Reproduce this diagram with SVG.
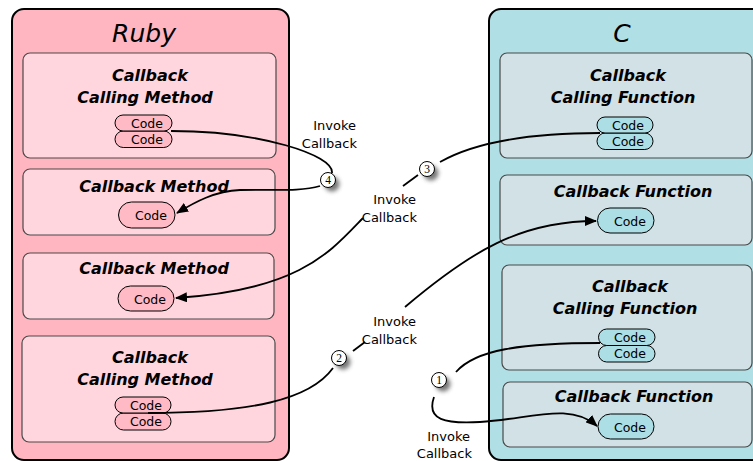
<svg xmlns="http://www.w3.org/2000/svg" width="753" height="461" viewBox="0 0 753 461">
  <defs>
    <marker id="arrow" viewBox="0 0 12 10" refX="11" refY="5" markerWidth="12" markerHeight="10" markerUnits="userSpaceOnUse" orient="auto">
      <path d="M0,0 L12,5 L0,10 Z" fill="#000"/>
    </marker>
    <filter id="soft" x="-1" y="-1" width="3" height="3">
      <feGaussianBlur stdDeviation="2"/>
    </filter>
    <style>
      .outer { stroke: #000; stroke-width: 2; }
      .ruby-outer { fill: #ffb6c1; }
      .c-outer { fill: #b0dfe5; }
      .inner { stroke: #4a4a4a; stroke-width: 1.2; }
      .ruby-inner { fill: #ffd6de; }
      .c-inner { fill: #d2e1e6; }
      .pill { stroke: #000; stroke-width: 1; }
      .ruby-pill { fill: #ffbac6; }
      .c-pill { fill: #abdee5; }
      .lang { font-family: "DejaVu Sans", sans-serif; font-style: oblique; font-size: 25px; text-anchor: middle; fill: #000; }
      .title { font-family: "DejaVu Sans", sans-serif; font-style: oblique; font-weight: bold; font-size: 16px; text-anchor: middle; fill: #000; }
      .code { font-family: "DejaVu Sans", sans-serif; font-size: 12.5px; text-anchor: middle; fill: #000; }
      .label { font-family: "DejaVu Sans", sans-serif; font-size: 13px; text-anchor: end; fill: #000; }
      .wire { fill: none; stroke: #000; stroke-width: 1.8; }
      .badge { fill: #fff; stroke: #000; stroke-width: 1; }
      .shadow { fill: #555; opacity: 0.8; }
      .num { font-family: "Liberation Serif", serif; font-size: 11.5px; text-anchor: middle; fill: #000; }
    </style>
  </defs>

  <!-- Ruby side -->
  <g id="ruby">
    <rect class="outer ruby-outer" x="12" y="9" width="277" height="451" rx="12"/>
    <text class="lang" x="144" y="42">Ruby</text>
  </g>

  <g id="ruby-calling-1">
    <rect class="inner ruby-inner" x="23" y="53" width="253" height="105" rx="7"/>
    <text class="title" x="150" y="81">Callback</text>
    <text class="title" x="145" y="103">Calling Method</text>
    <rect class="pill ruby-pill" x="115" y="131" width="57" height="16.5" rx="8.25"/>
    <text class="code" x="147" y="144">Code</text>
    <rect class="pill ruby-pill" x="115" y="115" width="57" height="16" rx="8"/>
    <text class="code" x="147" y="128">Code</text>
  </g>

  <g id="ruby-callback-1">
    <rect class="inner ruby-inner" x="23" y="169" width="252" height="66" rx="7"/>
    <text class="title" x="154" y="192">Callback Method</text>
    <rect class="pill ruby-pill" x="118.5" y="202" width="56.5" height="26" rx="13"/>
    <text class="code" x="151" y="220">Code</text>
  </g>

  <g id="ruby-callback-2">
    <rect class="inner ruby-inner" x="23" y="253" width="251" height="66" rx="7"/>
    <text class="title" x="154" y="274">Callback Method</text>
    <rect class="pill ruby-pill" x="118" y="286" width="56" height="25" rx="12.5"/>
    <text class="code" x="150" y="304">Code</text>
  </g>

  <g id="ruby-calling-2">
    <rect class="inner ruby-inner" x="22" y="336" width="253" height="106" rx="7"/>
    <text class="title" x="150" y="363">Callback</text>
    <text class="title" x="145" y="385">Calling Method</text>
    <rect class="pill ruby-pill" x="115" y="413" width="56" height="17" rx="8.5"/>
    <text class="code" x="146" y="426">Code</text>
    <rect class="pill ruby-pill" x="115" y="397" width="56" height="16" rx="8"/>
    <text class="code" x="146" y="410">Code</text>
  </g>

  <!-- C side -->
  <g id="c">
    <rect class="outer c-outer" x="489" y="9" width="280" height="451" rx="12"/>
    <text class="lang" x="622" y="42">C</text>
  </g>

  <g id="c-calling-1">
    <rect class="inner c-inner" x="500" y="53" width="252" height="105" rx="7"/>
    <text class="title" x="628" y="81">Callback</text>
    <text class="title" x="623" y="103">Calling Function</text>
    <rect class="pill c-pill" x="597" y="133" width="56" height="16.5" rx="8.25"/>
    <text class="code" x="628" y="146">Code</text>
    <rect class="pill c-pill" x="597" y="117" width="56" height="16" rx="8"/>
    <text class="code" x="628" y="130">Code</text>
  </g>

  <g id="c-callback-1">
    <rect class="inner c-inner" x="500" y="175" width="252" height="70" rx="7"/>
    <text class="title" x="633" y="197">Callback Function</text>
    <rect class="pill c-pill" x="597.5" y="208" width="56.5" height="25" rx="12.5"/>
    <text class="code" x="630" y="226">Code</text>
  </g>

  <g id="c-calling-2">
    <rect class="inner c-inner" x="502" y="265" width="250" height="105" rx="7"/>
    <text class="title" x="630" y="292">Callback</text>
    <text class="title" x="625" y="314">Calling Function</text>
    <rect class="pill c-pill" x="598.5" y="345.5" width="56.5" height="16.5" rx="8.25"/>
    <text class="code" x="630" y="358">Code</text>
    <rect class="pill c-pill" x="598.5" y="329" width="56.5" height="16.5" rx="8.25"/>
    <text class="code" x="630" y="342">Code</text>
  </g>

  <g id="c-callback-2">
    <rect class="inner c-inner" x="503" y="382" width="249" height="65" rx="7"/>
    <text class="title" x="634" y="402">Callback Function</text>
    <rect class="pill c-pill" x="598" y="414" width="56" height="25" rx="12.5"/>
    <text class="code" x="630" y="432">Code</text>
  </g>

  <!-- Invocation connectors, split where badges and labels sit on them -->
  <g id="connectors">
    <!-- 1: C caller -> C callback -->
    <path class="wire" d="M600,343 C520,343 475,350 456,372"/>
    <path class="wire" d="M434,397 C426,420 445,424 480,422 C530,419 570,402 597,426" marker-end="url(#arrow)"/>
    <!-- 2: Ruby caller -> C callback -->
    <path class="wire" d="M148,413 C250,413 310,400 333,368"/>
    <path class="wire" d="M353,351 L365,342"/>
    <path class="wire" d="M405,307 C470,252 520,221 596,221" marker-end="url(#arrow)"/>
    <!-- 3: C caller -> Ruby callback -->
    <path class="wire" d="M600,133 C520,133 470,145 440,162"/>
    <path class="wire" d="M418,175 L403,186"/>
    <path class="wire" d="M363,218 C330,252 300,290 176,298" marker-end="url(#arrow)"/>
    <!-- 4: Ruby caller -> Ruby callback -->
    <path class="wire" d="M171,131 C260,131 334,155 332,173"/>
    <path class="wire" d="M320,186 C300,192 270,189 240,190 C215,191 195,202 177,213" marker-end="url(#arrow)"/>

    <g id="labels">
      <text class="label" x="356" y="130">Invoke</text>
      <text class="label" x="357" y="148">Callback</text>
      <text class="label" x="416" y="204">Invoke</text>
      <text class="label" x="417" y="222">Callback</text>
      <text class="label" x="416" y="326">Invoke</text>
      <text class="label" x="417" y="344">Callback</text>
      <text class="label" x="470" y="441">Invoke</text>
      <text class="label" x="472" y="458">Callback</text>
    </g>

    <g id="badges">
      <circle class="shadow" cx="443" cy="384" r="7.5" filter="url(#soft)"/>
      <circle class="badge" cx="439" cy="380" r="7.5"/>
      <text class="num" x="439" y="384">1</text>

      <circle class="shadow" cx="343" cy="362" r="7.5" filter="url(#soft)"/>
      <circle class="badge" cx="339" cy="358" r="7.5"/>
      <text class="num" x="339" y="362">2</text>

      <circle class="shadow" cx="431" cy="173" r="7.5" filter="url(#soft)"/>
      <circle class="badge" cx="427" cy="169" r="7.5"/>
      <text class="num" x="427" y="173">3</text>

      <circle class="shadow" cx="332" cy="184" r="7.5" filter="url(#soft)"/>
      <circle class="badge" cx="328" cy="180" r="7.5"/>
      <text class="num" x="328" y="184">4</text>
    </g>
  </g>
</svg>
